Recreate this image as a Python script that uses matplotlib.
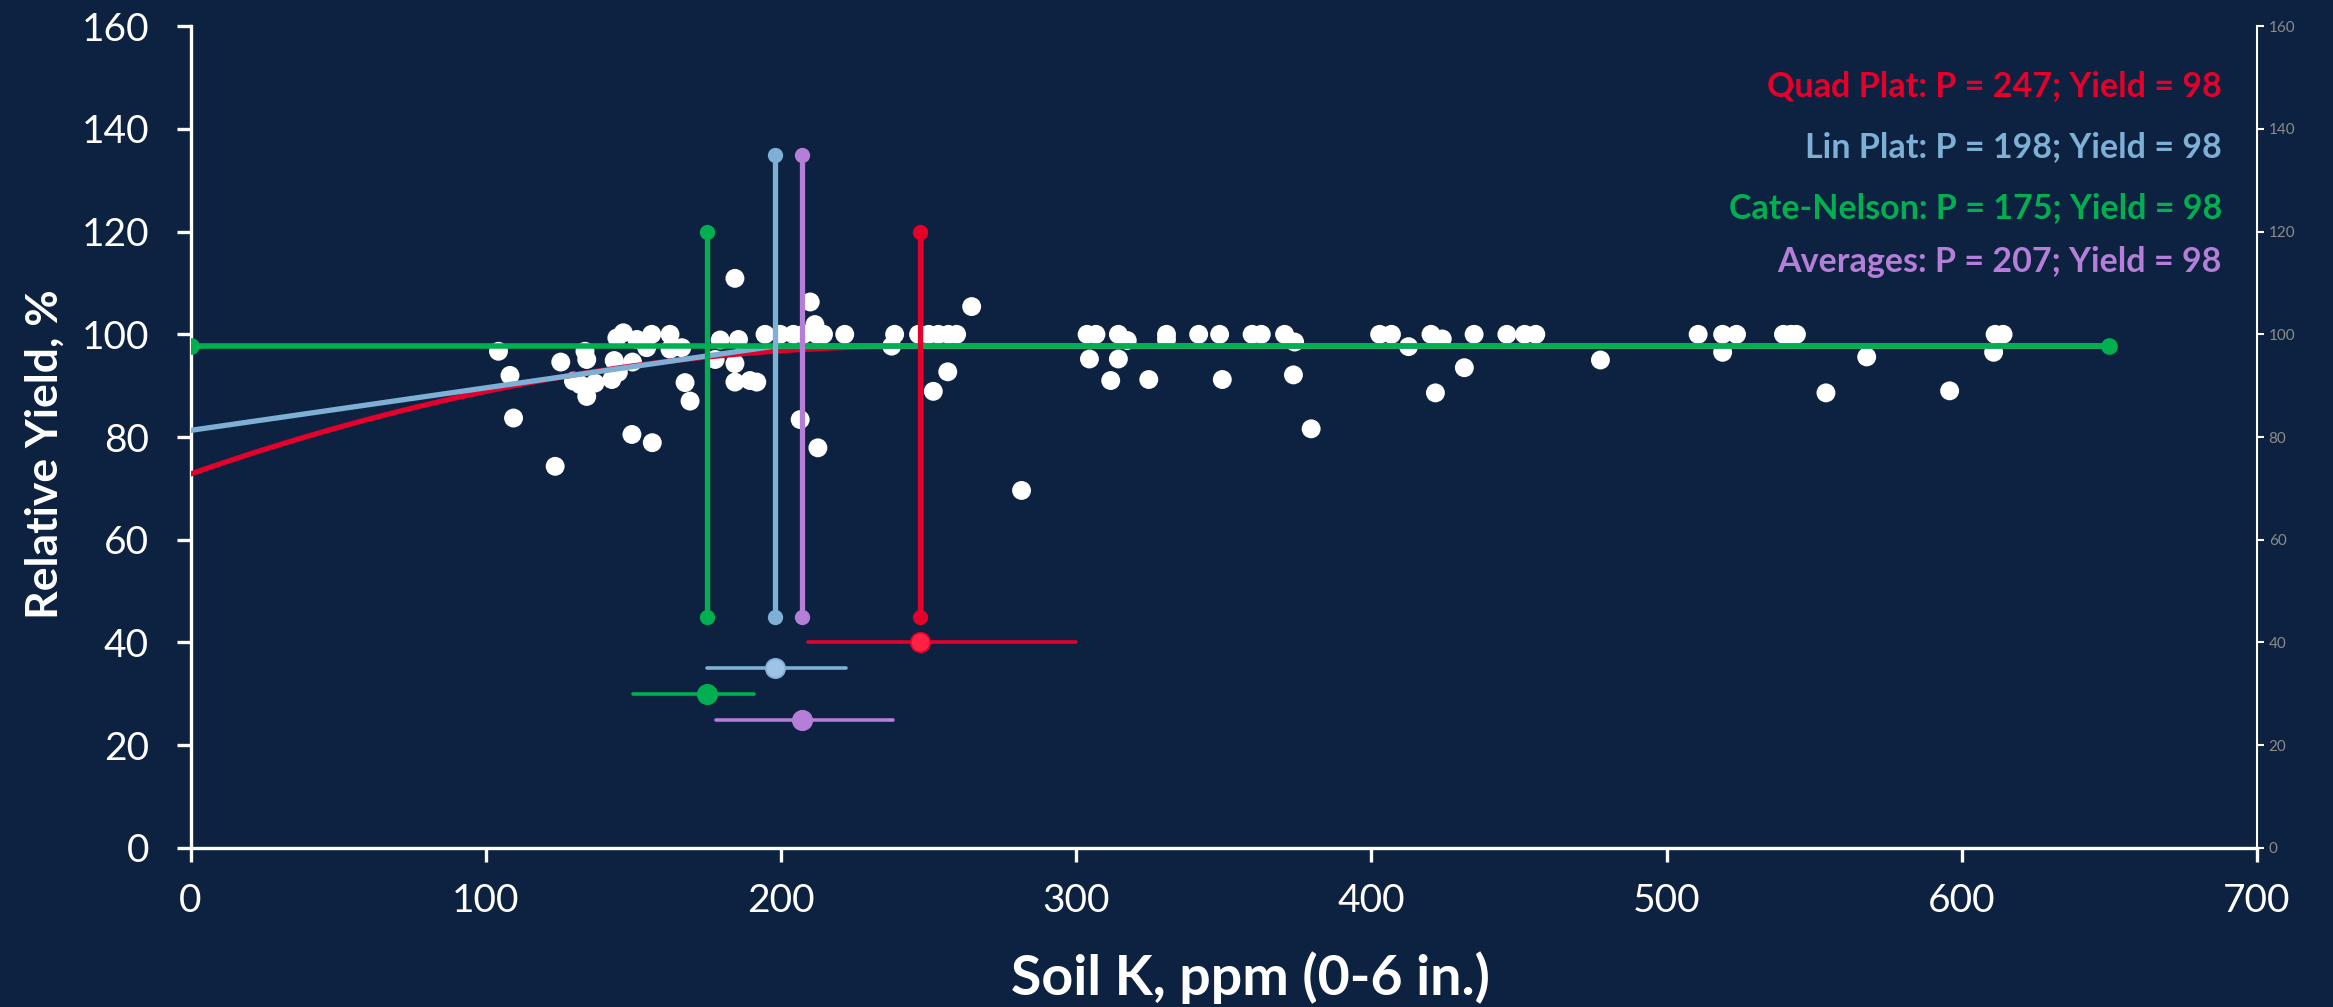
import numpy as np
import matplotlib.pyplot as plt

# soil test K (ppm) and relative yield (%)
soil_k = [104.3, 108.2, 109.4, 123.5, 125.4, 129.7, 132.0, 133.6, 134.2, 134.2,
          137.0, 142.7, 143.5, 144.4, 144.9, 146.6, 149.5, 149.7, 151.2, 154.5,
          156.2, 156.4, 162.4, 162.4, 166.4, 167.5, 169.2, 177.7, 179.4, 184.4,
          184.4, 184.4, 185.6, 189.5, 191.8, 194.6, 199.7, 204.2, 206.5, 207.6,
          209.9, 211.5, 212.1, 212.5, 214.4, 221.6, 237.5, 238.5, 246.6, 250.0,
          251.6, 253.3, 256.5, 256.7, 259.5, 264.6, 281.5, 303.7, 304.5, 306.7,
          311.7, 314.3, 314.3, 317.3, 324.6, 330.6, 330.6, 341.5, 348.6, 349.5,
          359.6, 362.7, 370.6, 373.6, 374.0, 379.6, 402.8, 406.8, 412.6, 420.2,
          421.7, 424.0, 431.5, 434.8, 445.9, 451.9, 455.7, 477.6, 510.7, 519.0,
          519.0, 523.7, 539.6, 542.1, 544.0, 554.0, 567.8, 595.9, 610.8, 611.3,
          614.0]
rel_yield = [96.7, 92.0, 83.7, 74.3, 94.6, 90.9, 90.2, 96.7, 95.1, 87.9,
             90.5, 91.2, 94.9, 99.3, 92.6, 100.3, 80.5, 94.6, 99.0, 97.4,
             100.0, 78.9, 100.0, 97.1, 97.4, 90.6, 87.0, 95.1, 98.9, 110.9,
             94.3, 90.7, 99.0, 91.0, 90.7, 100.0, 100.0, 100.0, 83.4, 100.0,
             106.3, 101.9, 100.0, 77.9, 100.0, 100.0, 97.7, 100.0, 100.0, 100.0,
             88.9, 100.0, 92.7, 100.0, 100.0, 105.4, 69.6, 100.0, 95.2, 100.0,
             91.0, 100.0, 95.2, 98.8, 91.2, 100.0, 99.0, 100.0, 100.0, 91.2,
             100.0, 100.0, 100.0, 92.1, 98.5, 81.6, 100.0, 100.0, 97.6, 100.0,
             88.6, 99.1, 93.5, 100.0, 100.0, 100.0, 100.0, 95.0, 100.0, 100.0,
             96.5, 100.0, 100.0, 100.0, 100.0, 88.6, 95.6, 89.0, 96.5, 100.0,
             100.0]

# model fits
plateau = 97.7
x_max = 650
quad_join = 247
quad_intercept = 72.8
lin_join = 198
lin_intercept = 81.3

# critical values: name, P, vertical line top, CI low, CI high, CI row y
methods = ['Quad Plat', 'Lin Plat', 'Cate-Nelson', 'Averages']
crit_p = [247, 198, 175, 207]
vline_top = [120, 135, 120, 135]
vline_bottom = 45
ci_low = [209, 175, 150, 178]
ci_high = [300, 222, 191, 238]
ci_y = [40, 35, 30, 25]
colors = ['#E4002B', '#7EB0D6', '#00B050', '#B57ED8']
ci_fill = ['#FF2244', '#9DC3E6', '#00B050', '#B57ED8']

bg = '#0D2240'
plt.rcParams['font.family'] = ['Lato', 'DejaVu Sans']

fig = plt.figure(figsize=(23.33, 10.07), dpi=100, facecolor=bg)
ax = fig.add_axes([0.0817, 0.158, 0.8857, 0.816], facecolor=bg)

ax.scatter(soil_k, rel_yield, s=185, color='white', edgecolors='none', zorder=3)

# quadratic-plateau curve
xq = np.linspace(0, quad_join, 100)
k = (plateau - quad_intercept) / quad_join ** 2
ax.plot(np.append(xq, x_max), np.append(plateau - k * (xq - quad_join) ** 2, plateau),
        color=colors[0], lw=3.8, zorder=4)
# linear-plateau
ax.plot([0, lin_join, x_max], [lin_intercept, plateau, plateau], color=colors[1], lw=3.8, zorder=4)
# cate-nelson plateau line
ax.plot([0, x_max], [plateau, plateau], color=colors[2], lw=4, marker='o', ms=11, zorder=5)

for i in range(4):
    ax.plot([crit_p[i], crit_p[i]], [vline_bottom, vline_top[i]], color=colors[i], lw=3.8,
            marker='o', ms=10, zorder=5)
    ax.plot([ci_low[i], ci_high[i]], [ci_y[i], ci_y[i]], color=colors[i], lw=2.6,
            solid_capstyle='round', zorder=5)
    ax.plot(crit_p[i], ci_y[i], 'o', ms=14, color=ci_fill[i], mec=colors[i], mew=1.2, zorder=6)
    ax.text(0.983, [0.927, 0.853, 0.779, 0.713][i],
            '%s: P = %d; Yield = %d' % (methods[i], crit_p[i], round(plateau)),
            transform=ax.transAxes, ha='right', va='center', color=colors[i],
            fontsize=24.5, fontweight='bold')

ax.set_xlim(0, 700)
ax.set_ylim(0, 160)
ax.set_xticks(range(0, 701, 100))
ax.set_yticks(range(0, 161, 20))
for s in ['top', 'right']:
    ax.spines[s].set_visible(False)
for s in ['left', 'bottom']:
    ax.spines[s].set_color('white')
    ax.spines[s].set_linewidth(2.4)
ax.tick_params(colors='white', labelsize=28, width=2.4, length=10)
ax.tick_params(axis='y', pad=20)
ax.tick_params(axis='x', pad=15)

# axis titles placed in figure coordinates
fig.text(0.536, 0.029, 'Soil K, ppm (0-6 in.)', color='white', fontsize=40, fontweight='bold',
         ha='center', va='center')
fig.text(0.0191, 0.549, 'Relative Yield, %', color='white', fontsize=32, fontweight='bold',
         ha='center', va='center', rotation=90)

ax2 = ax.twinx()
ax2.set_ylim(0, 160)
ax2.set_yticks(range(0, 161, 20))
for s in ['top', 'left', 'bottom']:
    ax2.spines[s].set_visible(False)
ax2.spines['right'].set_color('white')
ax2.spines['right'].set_linewidth(1.5)
ax2.tick_params(axis='y', colors='white', labelcolor='#8C8C8C', labelsize=11, width=1.5, length=5)

fig.savefig('out.png', dpi=100, facecolor=bg)
